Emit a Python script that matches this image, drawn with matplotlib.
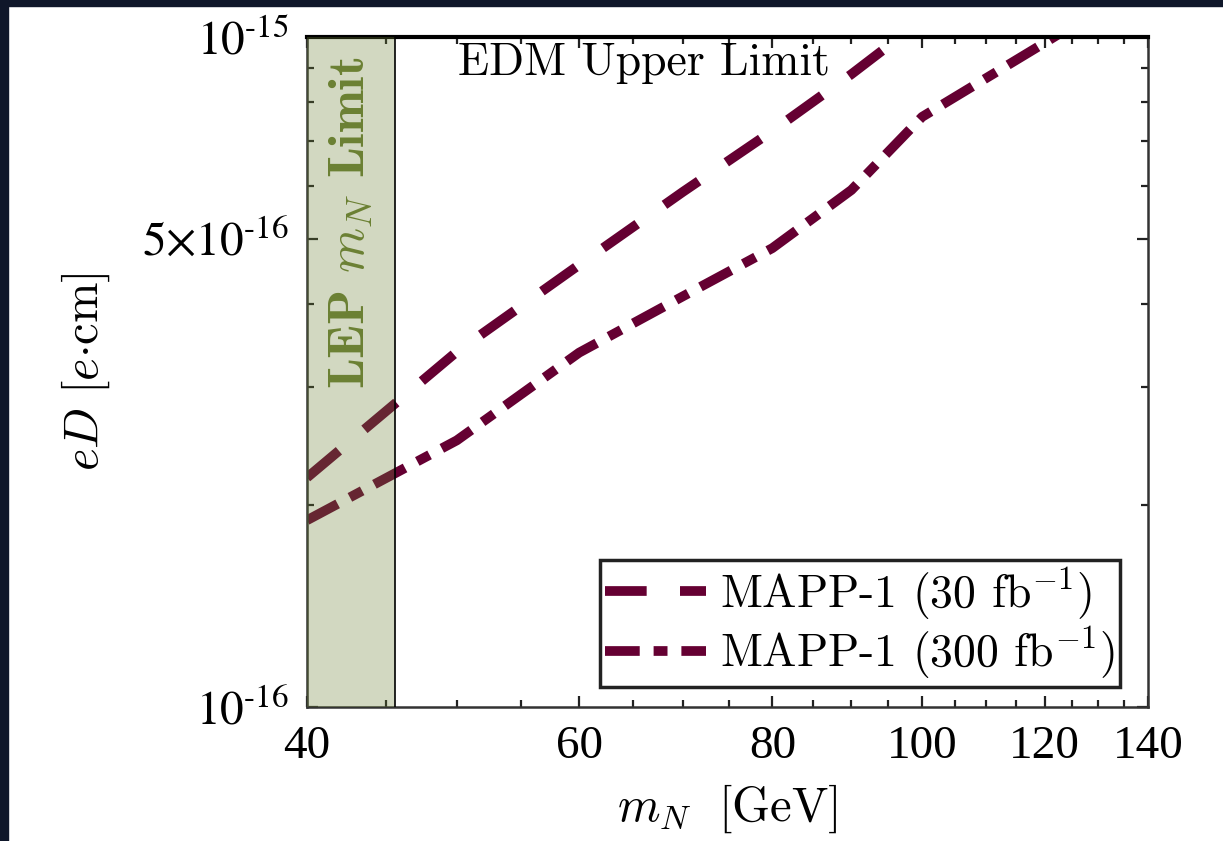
import numpy as np
import matplotlib.pyplot as plt
from matplotlib.patches import Rectangle
from matplotlib.ticker import FixedLocator, FixedFormatter, NullFormatter
from matplotlib.font_manager import FontProperties

# data
mass_30 = [40, 50, 60, 70, 80, 90, 100]
edm_30 = [2.20e-16, 3.39e-16, 4.57e-16, 5.87e-16, 7.24e-16, 8.8e-16, 1.06e-15]
mass_300 = [40, 50, 60, 70, 80, 90, 100, 120, 140]
edm_300 = [1.90e-16, 2.50e-16, 3.38e-16, 4.10e-16, 4.84e-16, 5.91e-16, 7.60e-16, 9.8e-16, 1.22e-15]
lep_limit = 45.6
labels = ["MAPP-1 (30 fb$^{-1}$)", "MAPP-1 (300 fb$^{-1}$)"]
xticks = [40, 60, 80, 100, 120, 140]
xminor = [45, 50, 55, 65, 70, 75, 85, 90, 95, 105, 110, 115, 125, 130, 135]
yticks = [1e-16, 5e-16, 1e-15]
yminor = [2e-16, 3e-16, 4e-16, 6e-16, 7e-16, 8e-16, 9e-16]
ytick_labels = [r"$10^{\text{-}16}$", r"$5{\times}10^{\text{-}16}$", r"$10^{\text{-}15}$"]

plt.rcParams["mathtext.fontset"] = "stix"
plt.rcParams["lines.scale_dashes"] = False

line_col = "#650032"
olive = "#6b8033"

tick_fp = FontProperties(family="Liberation Serif", size=34, math_fontfamily="stix")
lab_fp = FontProperties(family="cmr10", size=35, math_fontfamily="cm")
leg_fp = FontProperties(family="cmr10", size=33, math_fontfamily="cm")
edm_fp = FontProperties(family="cmr10", size=33, math_fontfamily="cm")
lep_fp = FontProperties(family="cmb10", size=37, math_fontfamily="cm")

fig = plt.figure(figsize=(12.23, 8.41), dpi=100)
ax = fig.add_axes([307 / 1223, 1 - 707 / 841, 841 / 1223, 670 / 841])

ax.plot(mass_30, edm_30, color=line_col, lw=7, dashes=(30, 24),
        dash_capstyle="butt", label=labels[0])
ax.plot(mass_300, edm_300, color=line_col, lw=7, dashes=(25, 10, 10, 10),
        dash_capstyle="butt", label=labels[1])

ax.axvspan(40, lep_limit, facecolor=olive, alpha=0.3, edgecolor="none", zorder=3)
ax.axvline(lep_limit, color="black", lw=1.2, zorder=4)

ax.set_xscale("log")
ax.set_yscale("log")
ax.set_xlim(40, 140)
ax.set_ylim(1e-16, 1e-15)

ax.xaxis.set_major_locator(FixedLocator(xticks))
ax.xaxis.set_major_formatter(FixedFormatter([str(t) for t in xticks]))
ax.xaxis.set_minor_locator(FixedLocator(xminor))
ax.xaxis.set_minor_formatter(NullFormatter())
ax.yaxis.set_major_locator(FixedLocator(yticks))
ax.yaxis.set_major_formatter(FixedFormatter(ytick_labels))
ax.yaxis.set_minor_locator(FixedLocator(yminor))
ax.yaxis.set_minor_formatter(NullFormatter())

ax.tick_params(which="both", direction="in", top=True, right=True,
               color="#222222", width=1.6, pad=13)
ax.tick_params(which="major", length=8)
ax.tick_params(which="minor", length=5)
for lbl in ax.get_xticklabels() + ax.get_yticklabels():
    lbl.set_fontproperties(tick_fp)

for side in ["left", "bottom", "right"]:
    ax.spines[side].set_linewidth(1.8)
    ax.spines[side].set_color("#333333")
ax.spines["top"].set_linewidth(3)
ax.spines["top"].set_color("black")

ax.set_xlabel(r"$m_N\;$ [GeV]", fontproperties=lab_fp)
ax.set_ylabel(r"$eD\ [e{\cdot}\mathrm{cm}]$", fontproperties=lab_fp)
ax.xaxis.set_label_coords(0.5, -0.112)
ax.yaxis.set_label_coords(-0.232, 0.5)

ax.text(0.179, 0.992, "EDM Upper Limit", transform=ax.transAxes,
        fontproperties=edm_fp, ha="left", va="top", zorder=6)
ax.text(0.052, 0.475, "LEP $m_N$ Limit", transform=ax.transAxes, rotation=90,
        fontproperties=lep_fp, color=olive, ha="center", va="bottom", zorder=6)

leg = ax.legend(prop=leg_fp, loc="lower right", bbox_to_anchor=(0.967, 0.03),
                borderaxespad=0, fancybox=False, framealpha=1, handlelength=2.2,
                handletextpad=0.3, labelspacing=0.05, borderpad=0.12)
leg.get_frame().set_edgecolor("#222222")
leg.get_frame().set_linewidth(2.5)
leg.set_zorder(7)

# dark screenshot border
fig.patches.append(Rectangle((0, 1 - 6 / 841), 1, 6 / 841, transform=fig.transFigure,
                             color="#0f172a", zorder=10))
fig.patches.append(Rectangle((0, 0), 8 / 1223, 1, transform=fig.transFigure,
                             color="#0f172a", zorder=10))

fig.savefig("out.png", dpi=100)
